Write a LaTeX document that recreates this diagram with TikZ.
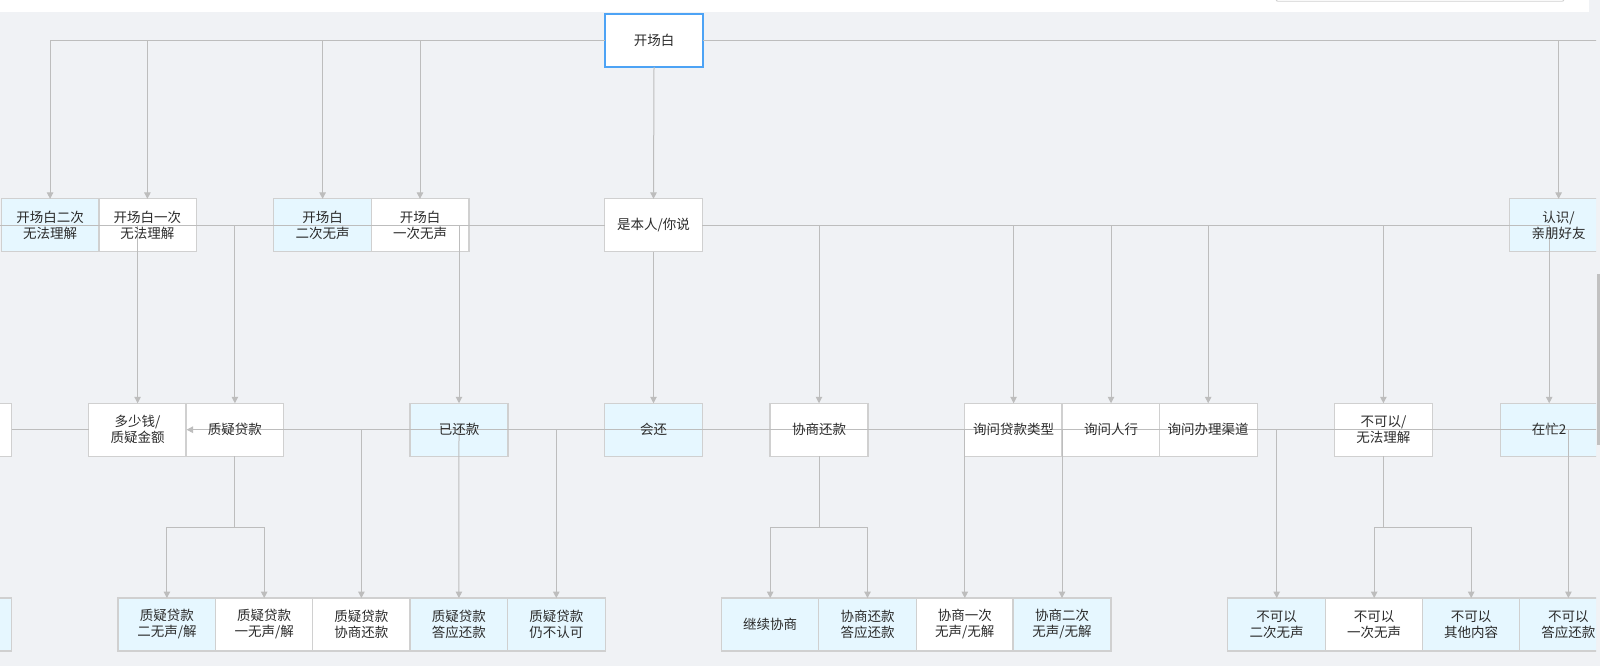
\documentclass[tikz,border=0pt]{standalone}
\usepackage{fontspec}
\newfontfamily\cjk{Noto Sans CJK SC}
\usetikzlibrary{arrows.meta}
\pgfdeclarelayer{bg}
\pgfdeclarelayer{edges}
\pgfsetlayers{bg,edges,main}
\definecolor{bgc}{HTML}{F0F2F5}
\definecolor{lb}{HTML}{E6F7FF}
\definecolor{bd}{HTML}{D0D0D0}
\definecolor{ln}{HTML}{BDBDBD}
\definecolor{txt}{HTML}{2B2B2B}
\definecolor{blu}{HTML}{4DA3F5}
\definecolor{sbc}{HTML}{C1C1C1}
\begin{document}
\begin{tikzpicture}[x=1pt,y=-1pt,
  lbl/.style={inner sep=0pt, minimum width=97.5pt, minimum height=52.5pt, align=center,
    font=\cjk\fontsize{13.5}{16}\selectfont, text=txt},
  conn/.style={draw=ln, line width=1pt},
  arr/.style={conn, -{Triangle[length=6.5pt,width=6.5pt]}},
  wbox/.style={fill=white, draw=bd, line width=1.2pt},
  bbox/.style={fill=lb, draw=bd, line width=1.2pt},
  kbox/.style={fill=white, draw=blu, line width=1.4pt}]
\useasboundingbox (0,0) rectangle (1600,666);
\begin{scope}
\clip (0,12) rectangle (1596,666);
% row 1
\node[lbl] (kcb) at (654,40.5) {开场白};
% row 2
\node[lbl] (a1) at (50.1,225.3) {开场白二次\\无法理解};
\node[lbl] (a2) at (147.4,225.3) {开场白一次\\无法理解};
\node[lbl] (a3) at (322.6,225.3) {开场白\\二次无声};
\node[lbl] (a4) at (420,225.3) {开场白\\一次无声};
\node[lbl] (a5) at (653.5,225.3) {是本人/你说};
\node[lbl] (a6) at (1558.6,225.3) {认识/\\亲朋好友};
% row 3
\node[lbl] (b0) at (-37.2,429.7) {};
\node[lbl] (b1) at (137.6,429.7) {多少钱/\\质疑金额};
\node[lbl] (b2) at (234.9,429.7) {质疑贷款};
\node[lbl] (b3) at (459,429.7) {已还款};
\node[lbl] (b4) at (653.5,429.7) {会还};
\node[lbl] (b5) at (819,429.7) {协商还款};
\node[lbl] (b6) at (1013.6,429.7) {询问贷款类型};
\node[lbl] (b7) at (1111,429.7) {询问人行};
\node[lbl] (b8) at (1208.2,429.7) {询问办理渠道};
\node[lbl] (b9) at (1383.4,429.7) {不可以/\\无法理解};
\node[lbl] (b10) at (1549.2,429.7) {在忙2};
% row 4
\node[lbl] (c0) at (-37.7,624.5) {};
\node[lbl] (c1) at (166.9,624.5) {质疑贷款\\二无声/解};
\node[lbl] (c2) at (264.2,624.5) {质疑贷款\\一无声/解};
\node[lbl] (c3) at (361.4,624.5) {质疑贷款\\协商还款};
\node[lbl] (c4) at (458.9,624.5) {质疑贷款\\答应还款};
\node[lbl] (c5) at (556.3,624.5) {质疑贷款\\仍不认可};
\node[lbl] (c6) at (770.2,624.5) {继续协商};
\node[lbl] (c7) at (867.5,624.5) {协商还款\\答应还款};
\node[lbl] (c8) at (964.8,624.5) {协商一次\\无声/无解};
\node[lbl] (c9) at (1062,624.5) {协商二次\\无声/无解};
\node[lbl] (c10) at (1276.7,624.5) {不可以\\二次无声};
\node[lbl] (c11) at (1374.2,624.5) {不可以\\一次无声};
\node[lbl] (c12) at (1471.2,624.5) {不可以\\其他内容};
\node[lbl] (c13) at (1568.4,624.5) {不可以\\答应还款};
\coordinate (topR) at (1610,40.5);
\coordinate (busL) at (-10,225.3);
\coordinate (r3R) at (1610,429.7);
\end{scope}

\begin{pgfonlayer}{bg}
\fill[bgc] (0,0) rectangle (1600,666);
\fill[white] (0,0) rectangle (1589,12);
\draw[bd, line width=0.9pt, fill=white, rounded corners=2pt] (1276,-8) rectangle (1564,1.3);
\fill[sbc] (1597.3,274) rectangle (1600,445);
\begin{scope}
\clip (0,12) rectangle (1596,666);
\foreach \n in {a2,a4,a5,b0,b1,b2,b5,b6,b7,b8,b9,c2,c3,c8,c11}
  {\draw[wbox] (\n.south west) rectangle (\n.north east);}
\foreach \n in {a1,a3,a6,b3,b4,b10,c0,c1,c4,c5,c6,c7,c9,c10,c12,c13}
  {\draw[bbox] (\n.south west) rectangle (\n.north east);}
\draw[kbox] (kcb.south west) rectangle (kcb.north east);
\end{scope}
\end{pgfonlayer}

\begin{pgfonlayer}{edges}
\begin{scope}
\clip (0,12) rectangle (1596,666);
% top bus
\draw[arr] (kcb.west) -| (a1.north);
\draw[arr] (kcb.west -| a2.north) -- (a2.north);
\draw[arr] (kcb.west -| a3.north) -- (a3.north);
\draw[arr] (kcb.west -| a4.north) -- (a4.north);
\draw[conn] (kcb.east) -- (topR);
\draw[arr] (kcb.east -| a6.north) -- (a6.north);
\draw[arr] (kcb.south) -- (a5.north);
% second bus
\draw[conn] (a5.west) -- (busL);
\draw[arr] (a5.west -| b1.north) -- (b1.north);
\draw[arr] (a5.west -| b2.north) -- (b2.north);
\draw[arr] (a5.west -| b3.north) -- (b3.north);
\draw[arr] (a5.south) -- (b4.north);
\draw[arr] (a5.east -| b5.north) -- (b5.north);
\draw[arr] (a5.east -| b6.north) -- (b6.north);
\draw[arr] (a5.east -| b7.north) -- (b7.north);
\draw[arr] (a5.east -| b8.north) -- (b8.north);
\draw[arr] (a5.east -| b9.north) -- (b9.north);
\draw[arr] (a5.east) -| (b10.north);
% third line
\draw[conn] (b0.east) -- (b1.west);
\draw[arr] (r3R) -- (b1.east);
\draw[arr] (b1.east -| c3.north) -- (c3.north);
\draw[arr] (b1.east -| c5.north) -- (c5.north);
\draw[arr] (b1.east -| c8.north) -- (c8.north);
\draw[arr] (b1.east -| c9.north) -- (c9.north);
\draw[arr] (b1.east -| c10.north) -- (c10.north);
\draw[arr] (b1.east -| c13.north) -- (c13.north);
\draw[arr] (b3.center) -- (c4.north);
% forks
\draw[arr] (b2.south) -- ++(0,71) -| (c1.north);
\draw[arr] (b2.south) ++(0,71) -| (c2.north);
\draw[arr] (b5.south) -- ++(0,71) -| (c6.north);
\draw[arr] (b5.south) ++(0,71) -| (c7.north);
\draw[arr] (b9.south) -- ++(0,71) -| (c11.north);
\draw[arr] (b9.south) ++(0,71) -| (c12.north);
\end{scope}
\end{pgfonlayer}
\end{tikzpicture}
\end{document}
